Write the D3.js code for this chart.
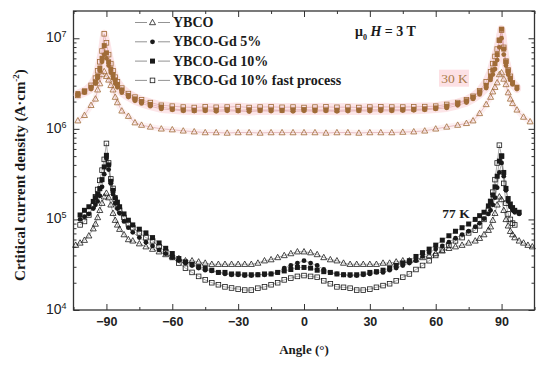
<!DOCTYPE html>
<html>
<head>
<meta charset="utf-8">
<script src="https://cdn.jsdelivr.net/npm/d3@7"></script>
<style>
  body { margin: 0; background: #fff; }
  svg { display: block; font-family: 'Liberation Serif', 'DejaVu Serif', serif; }
  .axis text { font-size: 12.5px; font-weight: bold; fill: #222; }
  .axis line { stroke: #333; stroke-width: 1; }
</style>
</head>
<body>
<div class="chart"></div>
<script>
// angles (deg) for the 77 K set
const angles77 = [-104,-102,-100,-98,-96,-95,-94,-93,-92,-91,-90,-89,-88,-87,-86,-85,-84,-82,-80,-78,
  -75,-72,-69,-66,-63,-60,-57,-54,-51,-48,-45,-42,-39,-36,-33,-30,-27,-24,-21,-18,-15,-12,-9,-6,-3,
  0,3,6,9,12,15,18,21,24,27,30,33,36,39,42,45,48,51,54,57,60,63,66,69,72,75,
  78,80,82,84,85,86,87,88,89,90,91,92,93,94,95,96,98,100,102,104];

const ybco77 = [5.2e4,5.5e4,5.9e4,6.6e4,7.9e4,8.9e4,1.05e5,1.26e5,1.51e5,1.78e5,1.95e5,1.74e5,1.45e5,1.17e5,9.8e4,8.7e4,7.8e4,6.8e4,6.0e4,5.8e4,
  5.4e4,5.0e4,4.7e4,4.4e4,4.1e4,3.9e4,3.7e4,3.5e4,3.5e4,3.4e4,3.3e4,3.2e4,3.2e4,3.2e4,3.2e4,3.2e4,3.2e4,3.2e4,3.3e4,3.5e4,3.6e4,3.8e4,4.0e4,4.2e4,4.4e4,
  4.4e4,4.3e4,4.1e4,3.8e4,3.6e4,3.5e4,3.3e4,3.2e4,3.2e4,3.2e4,3.2e4,3.2e4,3.3e4,3.3e4,3.4e4,3.5e4,3.5e4,3.6e4,3.8e4,4.0e4,4.2e4,4.5e4,4.8e4,5.0e4,5.2e4,5.5e4,
  5.8e4,6.2e4,6.8e4,7.6e4,8.3e4,9.8e4,1.17e5,1.45e5,1.78e5,1.66e5,1.26e5,1.0e5,8.5e4,7.4e4,6.8e4,6.3e4,5.8e4,5.5e4,5.2e4,5.0e4];

const gd5_77 = [null,1.0e5,1.07e5,1.15e5,1.32e5,1.45e5,1.58e5,1.82e5,2.29e5,3.16e5,4.7e5,3.55e5,2.5e5,1.9e5,1.5e5,1.32e5,1.17e5,9.5e4,8.1e4,7.2e4,
  6.3e4,5.6e4,5.1e4,4.6e4,4.2e4,3.8e4,3.5e4,3.3e4,3.1e4,2.9e4,2.75e4,2.7e4,2.6e4,2.5e4,2.45e4,2.45e4,2.4e4,2.4e4,2.45e4,2.45e4,2.5e4,2.6e4,2.9e4,3.1e4,3.3e4,
  3.5e4,3.3e4,3.1e4,2.8e4,2.6e4,2.5e4,2.45e4,2.4e4,2.4e4,2.45e4,2.5e4,2.6e4,2.6e4,2.75e4,2.9e4,3.1e4,3.3e4,3.5e4,3.9e4,4.3e4,4.7e4,5.1e4,5.6e4,6.2e4,6.8e4,7.4e4,
  8.3e4,9.1e4,1.02e5,1.15e5,1.26e5,1.45e5,1.74e5,2.24e5,3.3e5,4.2e5,3.0e5,2.1e5,1.58e5,1.38e5,1.26e5,1.2e5,1.15e5,null,null,null];

const gd10_77 = [null,1.12e5,1.26e5,1.38e5,1.58e5,1.74e5,1.91e5,2.19e5,2.75e5,3.8e5,5.1e5,4.0e5,2.63e5,2.09e5,1.74e5,1.55e5,1.38e5,1.15e5,9.8e4,8.7e4,
  7.8e4,7.1e4,6.3e4,5.5e4,4.8e4,4.2e4,3.7e4,3.4e4,3.2e4,3.0e4,2.9e4,2.75e4,2.6e4,2.6e4,2.5e4,2.5e4,2.45e4,2.45e4,2.45e4,2.5e4,2.5e4,2.6e4,2.7e4,2.8e4,2.95e4,
  2.95e4,2.9e4,2.75e4,2.65e4,2.6e4,2.5e4,2.45e4,2.45e4,2.45e4,2.5e4,2.6e4,2.65e4,2.75e4,2.9e4,3.1e4,3.3e4,3.5e4,3.9e4,4.3e4,4.7e4,5.2e4,5.9e4,6.6e4,7.4e4,8.1e4,8.9e4,
  1.0e5,1.1e5,1.2e5,1.41e5,1.58e5,1.86e5,2.29e5,3.0e5,4.4e5,5.0e5,3.3e5,2.2e5,1.7e5,1.48e5,1.35e5,1.26e5,1.2e5,null,null,null];

const gd10fast77 = [null,8.7e4,9.5e4,1.12e5,1.41e5,1.78e5,2.14e5,2.7e5,3.5e5,4.6e5,6.9e5,4.2e5,2.8e5,2.2e5,1.66e5,1.38e5,1.26e5,1.05e5,8.9e4,8.1e4,
  7.1e4,6.3e4,5.8e4,5.0e4,4.4e4,3.8e4,3.3e4,2.9e4,2.6e4,2.35e4,2.15e4,2.0e4,1.9e4,1.8e4,1.75e4,1.7e4,1.66e4,1.66e4,1.74e4,1.8e4,1.9e4,2.0e4,2.15e4,2.25e4,2.35e4,
  2.4e4,2.35e4,2.3e4,2.1e4,1.95e4,1.8e4,1.78e4,1.74e4,1.66e4,1.66e4,1.7e4,1.78e4,1.86e4,1.95e4,2.1e4,2.3e4,2.5e4,2.8e4,3.1e4,3.5e4,4.0e4,4.6e4,5.2e4,5.8e4,6.3e4,7.1e4,
  7.6e4,8.5e4,1.0e5,1.26e5,1.58e5,2.0e5,2.75e5,4.2e5,6.6e5,5.0e5,2.5e5,1.51e5,1.15e5,1.0e5,9.1e4,8.7e4,null,null,null,null];

// angles (deg) for the 30 K set
const angles30 = [-103,-100,-97,-95,-94,-93,-92,-91,-90,-89,-88,-87,-86,-85,-83,-80,-77,-74,-70,-65,
  -60,-55,-50,-45,-40,-35,-30,-25,-20,-15,-10,-5,0,5,10,15,20,25,30,35,40,45,50,55,60,
  65,70,74,77,80,83,85,86,87,88,89,90,91,92,93,94,95,97,100,103];

const ybco30 = [1.23e6,1.41e6,1.82e6,2.14e6,2.7e6,3.16e6,3.98e6,4.3e6,3.8e6,3.47e6,3.02e6,2.7e6,2.24e6,1.95e6,1.58e6,1.38e6,1.17e6,1.1e6,1.05e6,1.0e6,
  9.8e5,9.5e5,9.3e5,9.1e5,9.1e5,9.0e5,9.1e5,9.1e5,9.0e5,9.1e5,9.1e5,9.1e5,9.1e5,9.1e5,9.0e5,9.1e5,9.1e5,9.0e5,9.1e5,9.1e5,9.1e5,9.2e5,9.3e5,9.5e5,1.0e6,
  1.05e6,1.1e6,1.15e6,1.23e6,1.48e6,1.86e6,2.24e6,2.57e6,2.88e6,3.24e6,3.98e6,4.17e6,3.55e6,3.09e6,2.51e6,2.14e6,1.91e6,1.62e6,1.35e6,1.2e6];

const gd5_30 = [2.34e6,2.51e6,2.75e6,3.16e6,3.63e6,4.37e6,5.5e6,6.6e6,6.0e6,5.0e6,4.17e6,3.63e6,3.16e6,2.88e6,2.51e6,2.24e6,2.04e6,1.91e6,1.78e6,1.66e6,
  1.62e6,1.58e6,1.57e6,1.58e6,1.56e6,1.58e6,1.57e6,1.55e6,1.58e6,1.57e6,1.58e6,1.56e6,1.58e6,1.57e6,1.58e6,1.56e6,1.57e6,1.58e6,1.57e6,1.58e6,1.58e6,1.59e6,1.6e6,1.62e6,1.66e6,
  1.7e6,1.82e6,1.95e6,2.14e6,2.4e6,2.82e6,3.47e6,3.98e6,4.57e6,5.75e6,7.94e6,1.0e7,6.6e6,5.0e6,3.98e6,3.47e6,3.09e6,2.75e6,null,null];

const gd10_30 = [2.45e6,2.63e6,2.88e6,3.31e6,3.8e6,4.68e6,6.0e6,8.3e6,6.9e6,5.5e6,4.57e6,3.98e6,3.47e6,3.09e6,2.69e6,2.34e6,2.14e6,2.0e6,1.86e6,1.74e6,
  1.66e6,1.62e6,1.6e6,1.62e6,1.61e6,1.63e6,1.6e6,1.62e6,1.61e6,1.62e6,1.6e6,1.62e6,1.63e6,1.61e6,1.62e6,1.6e6,1.62e6,1.61e6,1.62e6,1.63e6,1.62e6,1.63e6,1.64e6,1.66e6,1.7e6,
  1.78e6,1.91e6,2.04e6,2.24e6,2.57e6,3.02e6,3.8e6,4.47e6,5.25e6,6.6e6,9.5e6,1.26e7,7.6e6,5.5e6,4.37e6,3.63e6,3.24e6,2.88e6,null,null];

const gd10fast30 = [2.34e6,2.57e6,3.02e6,3.63e6,4.37e6,5.5e6,7.24e6,1.12e7,8.9e6,6.6e6,5.25e6,4.37e6,3.72e6,3.31e6,2.82e6,2.45e6,2.24e6,2.09e6,1.95e6,1.82e6,
  1.78e6,1.74e6,1.72e6,1.75e6,1.73e6,1.74e6,1.76e6,1.72e6,1.74e6,1.75e6,1.73e6,1.74e6,1.72e6,1.74e6,1.75e6,1.73e6,1.74e6,1.72e6,1.74e6,1.75e6,1.74e6,1.74e6,1.75e6,1.76e6,1.78e6,
  1.86e6,1.95e6,2.09e6,2.29e6,2.63e6,3.31e6,4.27e6,5.25e6,6.3e6,7.6e6,9.5e6,1.23e7,7.94e6,5.6e6,4.47e6,3.8e6,null,null,null,null];

const seriesNames = ['YBCO', 'YBCO-Gd 5%', 'YBCO-Gd 10%', 'YBCO-Gd 10% fast process'];
const markerTypes = ['triangle', 'circle', 'square', 'openSquare'];
const xTicks = [-90, -60, -30, 0, 30, 60, 90];
const xMinorTicks = [-105, -75, -45, -15, 15, 45, 75, 105];
const yTicks = [1e4, 1e5, 1e6, 1e7];

function main() {
  const W = 550, H = 366;
  const margin = { top: 11, right: 15.5, bottom: 56, left: 73.5 },
    width = W - margin.left - margin.right,
    height = H - margin.top - margin.bottom;

  const x = d3.scaleLinear().domain([-105, 105]).range([0, width]);
  const y = d3.scaleLog().domain([1e4, 2e7]).range([height, 0]);

  const svg = d3
    .select('.chart')
    .append('svg')
    .attr('width', W)
    .attr('height', H);
  const g = svg.append('g').attr('transform', 'translate(' + margin.left + ',' + margin.top + ')');

  const yMinor = [];
  [1e4, 1e5, 1e6, 1e7].forEach((dec) => {
    for (let k = 2; k <= 9; k++) if (dec * k <= 2e7) yMinor.push(dec * k);
  });

  // axes, ticks inside
  const xAxis = g.append('g').attr('class', 'axis').attr('transform', 'translate(0,' + height + ')');
  xAxis.call(d3.axisBottom(x).tickValues(xTicks).tickSize(-6).tickPadding(7).tickFormat(d3.format('d')));
  xAxis.append('g').call(d3.axisBottom(x).tickValues(xMinorTicks).tickSize(-3).tickFormat(''));
  const xTop = g.append('g').attr('class', 'axis');
  xTop.call(d3.axisTop(x).tickValues(xTicks).tickSize(-6).tickFormat(''));
  xTop.append('g').call(d3.axisTop(x).tickValues(xMinorTicks).tickSize(-3).tickFormat(''));

  const yAxis = g.append('g').attr('class', 'axis');
  yAxis.call(d3.axisLeft(y).tickValues(yTicks).tickSize(-6).tickPadding(7).tickFormat(''));
  yAxis.selectAll('.tick text').each(function (d) {
    const t = d3.select(this).attr('dy', '0.25em').style('font-size', '14px').style('font-weight', 'normal');
    t.append('tspan').text('10');
    t.append('tspan').attr('dy', '-0.55em').style('font-size', '9px').text(Math.round(Math.log10(d)));
  });
  yAxis.append('g').call(d3.axisLeft(y).tickValues(yMinor).tickSize(-3).tickFormat(''));
  const yRight = g.append('g').attr('class', 'axis').attr('transform', 'translate(' + width + ',0)');
  yRight.call(d3.axisRight(y).tickValues(yTicks).tickSize(-6).tickFormat(''));
  yRight.append('g').call(d3.axisRight(y).tickValues(yMinor).tickSize(-3).tickFormat(''));
  g.selectAll('.axis .domain').remove();

  // frame
  g.append('rect')
    .attr('width', width)
    .attr('height', height)
    .attr('fill', 'none')
    .attr('stroke', '#333')
    .attr('stroke-width', 1.3);

  const set30 = [ybco30, gd5_30, gd10_30, gd10fast30];
  const set77 = [ybco77, gd5_77, gd10_77, gd10fast77];

  function pts(angles, vals) {
    return angles.map((a, i) => ({ a, v: vals[i] })).filter((d) => d.v != null);
  }
  const line = d3.line().x((d) => x(d.a)).y((d) => y(d.v));

  // pink glow behind the 30 K curves
  const glow = g.append('g').attr('class', 'glow').attr('opacity', 0.75);
  set30.forEach((vals, i) => {
    glow.append('path')
      .datum(pts(angles30, vals))
      .attr('d', line)
      .attr('fill', 'none')
      .attr('stroke', i === 0 ? '#fdeef0' : '#fcdde1')
      .attr('stroke-width', i === 0 ? 6 : 8)
      .attr('stroke-linejoin', 'round')
      .attr('stroke-linecap', 'round');
  });

  // "30 K" label with pink background
  g.append('rect')
    .attr('x', x(61.5))
    .attr('y', y(4.5e6))
    .attr('width', 30)
    .attr('height', 17)
    .attr('fill', '#fde1e5');

  function drawMarker(sel, type, color, fill) {
    if (type === 'circle') {
      sel.append('circle').attr('r', 2.4).attr('fill', color);
    } else if (type === 'square') {
      sel.append('rect').attr('x', -2.5).attr('y', -2.5).attr('width', 5).attr('height', 5).attr('fill', color);
    } else if (type === 'openSquare') {
      sel.append('rect').attr('x', -2.3).attr('y', -2.3).attr('width', 4.6).attr('height', 4.6)
        .attr('fill', fill).attr('stroke', color).attr('stroke-width', 0.8);
    } else {
      sel.append('path').attr('d', 'M0,-3.2L3,2.2L-3,2.2Z')
        .attr('fill', fill).attr('stroke', color).attr('stroke-width', 0.8);
    }
  }

  function drawSet(angles, set, color, lineColor) {
    const grp = g.append('g');
    set.forEach((vals) => {
      grp.append('path')
        .datum(pts(angles, vals))
        .attr('d', line)
        .attr('fill', 'none')
        .attr('stroke', lineColor)
        .attr('stroke-width', 0.6);
    });
    set.forEach((vals, i) => {
      grp.append('g')
        .selectAll('g')
        .data(pts(angles, vals))
        .enter()
        .append('g')
        .attr('transform', (d) => 'translate(' + x(d.a) + ',' + y(d.v) + ')')
        .each(function () {
          drawMarker(d3.select(this), markerTypes[i], color, 'none');
        });
    });
  }

  drawSet(angles77, set77, '#1a1a1a', '#777');
  drawSet(angles30, set30, '#a06c38', '#d99aa2');

  // legend
  const legend = svg.append('g').attr('transform', 'translate(135,0)');
  seriesNames.forEach((name, i) => {
    const row = legend.append('g').attr('transform', 'translate(0,' + (22.5 + 19.3 * i) + ')');
    row.append('line').attr('x1', 0).attr('x2', 12).attr('stroke', '#777').attr('stroke-width', 0.8);
    row.append('line').attr('x1', 23).attr('x2', 35).attr('stroke', '#777').attr('stroke-width', 0.8);
    const m = row.append('g').attr('transform', 'translate(17.5,0)');
    drawMarker(m, markerTypes[i], '#1a1a1a', '#fff');
    row.append('text')
      .attr('x', 38)
      .attr('y', 4.5)
      .attr('font-size', 14)
      .attr('font-weight', 'bold')
      .attr('fill', '#1a1a1a')
      .text(name);
  });

  // annotations
  const field = svg.append('text')
    .attr('x', 355)
    .attr('y', 36)
    .attr('font-size', 14)
    .attr('font-weight', 'bold')
    .attr('fill', '#1a1a1a');
  field.append('tspan').text('\u03bc');
  field.append('tspan').attr('dy', 4).attr('font-size', 8).text('0');
  field.append('tspan').attr('dy', -4).text(' ');
  field.append('tspan').attr('font-style', 'italic').text('H');
  field.append('tspan').text(' = 3 T');

  g.append('text')
    .attr('x', x(62.5))
    .attr('y', y(4.5e6) + 13)
    .attr('font-size', 13.5)
    .attr('fill', '#a87b4a')
    .text('30 K');

  g.append('text')
    .attr('x', x(63))
    .attr('y', y(1.04e5))
    .attr('font-size', 13.5)
    .attr('font-weight', 'bold')
    .attr('fill', '#1a1a1a')
    .text('77 K');

  // axis titles
  svg.append('text')
    .attr('x', margin.left + x(0))
    .attr('y', 354)
    .attr('text-anchor', 'middle')
    .attr('font-size', 13)
    .attr('font-weight', 'bold')
    .attr('fill', '#1a1a1a')
    .text('Angle (\u00b0)');

  const yt = svg.append('text')
    .attr('transform', 'translate(25,175) rotate(-90)')
    .attr('text-anchor', 'middle')
    .attr('font-size', 15)
    .attr('font-weight', 'bold')
    .attr('fill', '#1a1a1a');
  yt.append('tspan').text('Crtitical current density (A\u00b7cm');
  yt.append('tspan').attr('dy', -6).attr('font-size', 9).text('-2');
  yt.append('tspan').attr('dy', 6).text(')');
}

main();
</script>
</body>
</html>
